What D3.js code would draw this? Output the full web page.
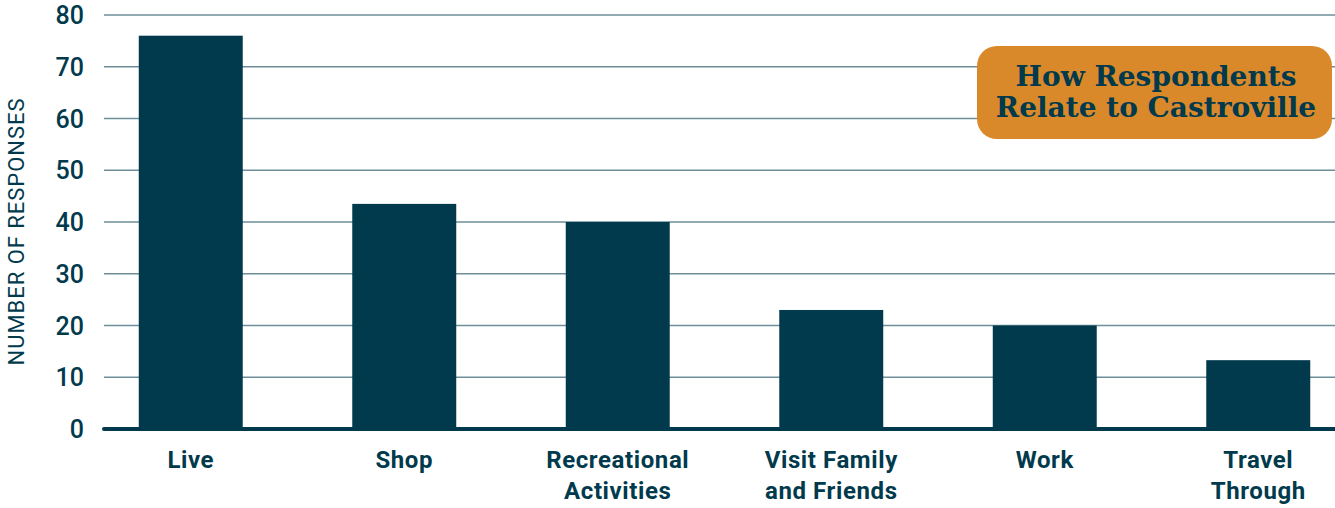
<!doctype html>
<html>
<head>
<meta charset="utf-8"/>
<style>
  body { margin: 0; background: #fff; }
  svg { display: block; }
</style>
<script src="https://d3js.org/d3.v7.min.js"></script>
</head>
<body>
<svg width="1335" height="508"></svg>
<script>
// chart data
var categories = ["Live", "Shop", "Recreational Activities", "Visit Family and Friends", "Work", "Travel Through"];
var labelLines = [["Live"], ["Shop"], ["Recreational", "Activities"], ["Visit Family", "and Friends"], ["Work"], ["Travel", "Through"]];
var responses = [76, 43.5, 40, 23, 20, 13.3];
var yTicks = [0, 10, 20, 30, 40, 50, 60, 70, 80];
var titleLines = ["How Respondents", "Relate to Castroville"];

var dark = "#013a4c";
var sans = "Roboto, 'DejaVu Sans', sans-serif";
var svg = d3.select("svg");

var x = d3.scaleBand()
    .domain(categories)
    .range([84, 1365])
    .paddingInner(0.513)
    .paddingOuter(0.2565);

var y = d3.scaleLinear().domain([0, 80]).range([429, 15]);

// gridlines
svg.append("g").selectAll("line")
    .data(yTicks.filter(function(d) { return d > 0; }))
    .join("line")
    .attr("x1", 104).attr("x2", 1335)
    .attr("y1", function(d) { return y(d); })
    .attr("y2", function(d) { return y(d); })
    .attr("stroke", "#6e8e99")
    .attr("stroke-width", 1.3);

// y tick labels
svg.append("g").selectAll("text")
    .data(yTicks)
    .join("text")
    .attr("x", 84)
    .attr("y", function(d) { return y(d) + 9; })
    .attr("text-anchor", "end")
    .style("font-family", sans)
    .style("font-size", "25px")
    .style("font-weight", 500)
    .style("fill", dark)
    .text(function(d) { return d; });

// bars
svg.append("g").selectAll("rect")
    .data(categories)
    .join("rect")
    .attr("x", function(d) { return x(d); })
    .attr("width", x.bandwidth())
    .attr("y", function(d, i) { return y(responses[i]); })
    .attr("height", function(d, i) { return y(0) - y(responses[i]); })
    .attr("fill", dark);

// baseline
svg.append("line")
    .attr("x1", 104).attr("x2", 1335)
    .attr("y1", y(0)).attr("y2", y(0))
    .attr("stroke", dark)
    .attr("stroke-width", 4)
    .attr("stroke-linecap", "round");

// category labels
var cat = svg.append("g").selectAll("text")
    .data(categories)
    .join("text")
    .attr("text-anchor", "middle")
    .style("font-family", sans)
    .style("font-size", "24px")
    .style("font-weight", 700)
    .style("letter-spacing", "0.6px")
    .style("fill", dark)
    .attr("transform", function(d) { return "translate(" + (x(d) + x.bandwidth() / 2) + ",468)"; });
cat.selectAll("tspan")
    .data(function(d, i) { return labelLines[i]; })
    .join("tspan")
    .attr("x", 0)
    .attr("dy", function(d, i) { return i === 0 ? 0 : 31; })
    .text(function(d) { return d; });

// y axis title
svg.append("text")
    .attr("transform", "translate(24,232) rotate(-90)")
    .attr("text-anchor", "middle")
    .attr("textLength", 267)
    .attr("lengthAdjust", "spacing")
    .style("font-family", sans)
    .style("font-size", "22px")
    .style("font-weight", 400)
    .style("fill", dark)
    .text("NUMBER OF RESPONSES");

// title box
svg.append("rect")
    .attr("x", 977).attr("y", 46)
    .attr("width", 355).attr("height", 93)
    .attr("rx", 20)
    .attr("fill", "#d9892a");

svg.append("g").selectAll("text")
    .data(titleLines)
    .join("text")
    .attr("x", 1156)
    .attr("y", function(d, i) { return 86 + i * 31; })
    .attr("text-anchor", "middle")
    .style("font-family", "'DejaVu Serif', serif")
    .style("font-size", "28px")
    .style("font-weight", 700)
    .style("fill", dark)
    .text(function(d) { return d; });
</script>
</body>
</html>
